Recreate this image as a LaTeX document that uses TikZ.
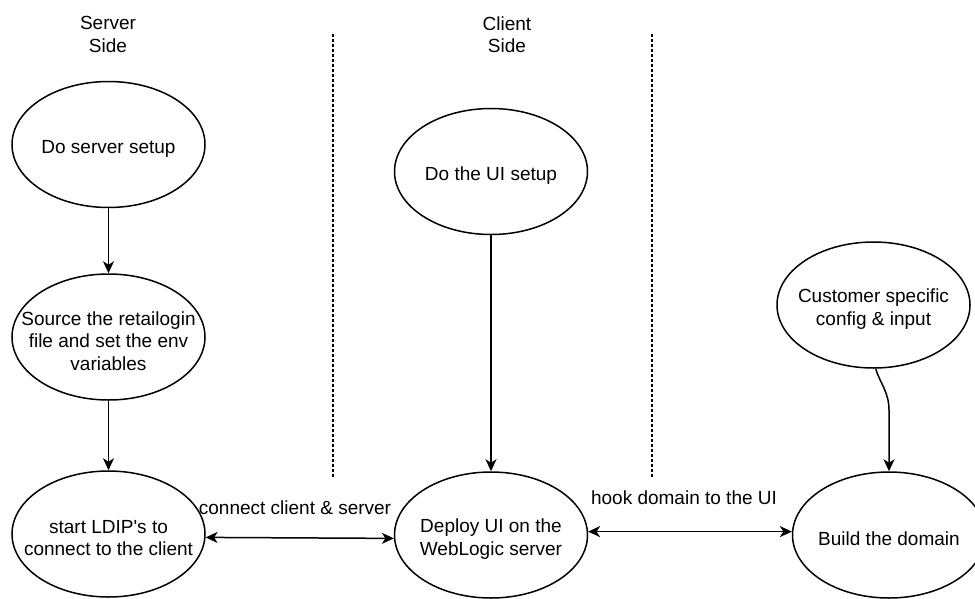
\documentclass[tikz,border=0pt]{standalone}
\usepackage{fontspec}
\setmainfont{Liberation Sans}
\usetikzlibrary{arrows.meta,shapes.geometric}
% typewriter apostrophe, set as a glyph so the font mapping leaves it straight
\newcommand\straightapos{\XeTeXglyph\XeTeXcharglyph"0027\relax}
\begin{document}
\begin{tikzpicture}[x=1pt,y=-1pt,
  every node/.style={font=\fontsize{19}{22.5}\selectfont, align=center, text=black},
  tip/.tip={Stealth[length=12pt,width=11pt,inset=3.5pt]},
  stepnode/.style={ellipse, draw, line width=1.5pt, minimum width=193pt, minimum height=126pt, inner sep=0pt},
  steptext/.style={label={[align=center, yshift=-4pt]center:#1}},
  flow/.style={line width=1.5pt, -tip},
  both/.style={line width=1.5pt, tip-tip},
  divider/.style={line width=1.2pt, dash pattern=on 3pt off 2pt}]
\useasboundingbox (0,0) rectangle (975,598);
\clip (0,0) rectangle (975,598);

% column headings
\node (hserver) at (108,34.5) {Server\\Side};
\node (hclient) at (507,34.5) {Client\\Side};

% dotted separators between the columns
\coordinate (d1a) at (333,34);
\coordinate (d1b) at (333,478);
\coordinate (d2a) at (652,34);
\coordinate (d2b) at (652,478);
\draw[divider] (d1a) -- (d1b);
\draw[divider] (d2a) -- (d2b);

% server side
\node[stepnode, steptext={Do server setup}] (ss) at (108.5,144.5) {};
\node[stepnode, steptext={Source the retailogin\\file and set the env\\variables}] (src) at (108.5,337) {};
\node[stepnode, steptext={start LDIP\straightapos s to\\connect to the client}] (ldip) at (108.5,534) {};

% client side
\node[stepnode, steptext={Do the UI setup}] (ui) at (491,171.5) {};
\node[stepnode, steptext={Deploy UI on the\\WebLogic server}] (deploy) at (491,535) {};

% domain
\node[stepnode, steptext={Customer specific\\config \& input}] (cust) at (873.5,305) {};
\node[stepnode, steptext={Build the domain}] (build) at (889,535) {};

% connectors
\draw[flow] (ss) -- (src);
\draw[flow] (src) -- (ldip);
\draw[flow] (ui) -- (deploy);
\draw[both] (ldip.-2) -- (deploy.182);
\draw[both] (deploy.2) -- (build.178);
\coordinate (bend) at (889,410);
\draw[flow] (cust.-88) .. controls +(4,14) and +(0,-18) .. (bend) -- (build.north);

% connector labels
\node (lconnect) at (295,508) {connect client \& server};
\node (lhook) at (684,498) {hook domain to the UI};
\end{tikzpicture}
\end{document}
